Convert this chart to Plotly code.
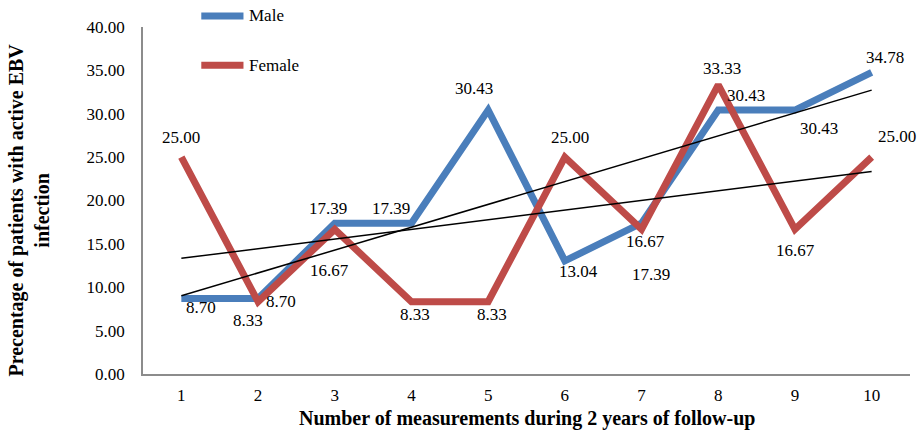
import numpy as np
import plotly.graph_objects as go

# Follow-up measurements (1..10) and share of patients with active EBV infection (%)
measurements = [1, 2, 3, 4, 5, 6, 7, 8, 9, 10]
male = [8.70, 8.70, 17.39, 17.39, 30.43, 13.04, 17.39, 30.43, 30.43, 34.78]
female = [25.00, 8.33, 16.67, 8.33, 8.33, 25.00, 16.67, 33.33, 16.67, 25.00]
y_ticks = [0, 5, 10, 15, 20, 25, 30, 35, 40]
series_names = ["Male", "Female"]

# Pixel offsets of each value label relative to its point
male_label_shift = [(20, -9), (23, -3), (-7, 15), (-20, 15), (-14, 22), (14, -11), (9, -51), (28, 15), (24, -18), (13, 15)]
female_label_shift = [(0, 20), (-10, -19), (-5, -41), (4, -13), (4, -13), (5, 20), (4, -12), (4, 16), (1, -21), (25, 21)]

BLUE = "#4A7EBB"
RED = "#BE4B48"
FONT = "'Liberation Serif', 'Times New Roman', Times, serif"

fig = go.Figure()
for name, series, color in ((series_names[0], male, BLUE), (series_names[1], female, RED)):
    fig.add_trace(go.Scatter(x=measurements, y=series, mode="lines", name=name,
                             line=dict(color=color, width=7), showlegend=False))

# Linear trend lines for both series
xs = np.array(measurements, dtype=float)
for series in (male, female):
    slope, intercept = np.polyfit(xs, np.array(series), 1)
    fig.add_trace(go.Scatter(x=xs, y=slope * xs + intercept, mode="lines",
                             line=dict(color="black", width=1.5), showlegend=False,
                             hoverinfo="skip"))

# Value labels
for series, shifts in ((male, male_label_shift), (female, female_label_shift)):
    for x, v, (dx, dy) in zip(measurements, series, shifts):
        fig.add_annotation(x=x, y=v, text=f"{v:.2f}", showarrow=False,
                           xshift=dx, yshift=dy, font=dict(family=FONT, size=17, color="black"))

# Legend: long line swatches with the series name to their right
for (name, color), ypos in zip(((series_names[0], BLUE), (series_names[1], RED)), (1.032, 0.890)):
    fig.add_shape(type="line", xref="paper", yref="paper", x0=0.076, x1=0.131, y0=ypos, y1=ypos,
                  line=dict(color=color, width=7))
    fig.add_annotation(xref="paper", yref="paper", x=0.1355, y=ypos, text=name, showarrow=False,
                       xanchor="left", yanchor="middle", font=dict(family=FONT, size=17, color="black"))

# Axis titles
fig.add_annotation(xref="paper", yref="paper", x=0.5, y=-0.127,
                   text="<b>Number of measurements during 2 years of follow-up</b>",
                   showarrow=False, font=dict(family=FONT, size=20, color="black"),
                   xanchor="center", yanchor="middle")
fig.add_annotation(xref="paper", yref="paper", x=-0.149, y=0.473,
                   text="<b>Precentage of patients with active EBV<br>infection</b>",
                   showarrow=False, textangle=-90, font=dict(family=FONT, size=20, color="black"),
                   xanchor="center", yanchor="middle")

fig.update_layout(
    width=919, height=430,
    margin=dict(l=143, r=9, t=27, b=56, autoexpand=False),
    paper_bgcolor="white", plot_bgcolor="white",
    font=dict(family=FONT, size=17, color="black"),
    showlegend=False,
    xaxis=dict(range=[0.5, 10.5], tickmode="array", tickvals=measurements,
               ticktext=[str(m) for m in measurements],
               showgrid=False, zeroline=False, showline=True, linecolor="#8C8C8C", linewidth=1.5,
               ticks="", ticklabelstandoff=5, fixedrange=True),
    yaxis=dict(range=[0, 40], tickmode="array", tickvals=y_ticks,
               ticktext=[f"{t:.2f}" for t in y_ticks],
               showgrid=False, zeroline=False, showline=True, linecolor="#8C8C8C", linewidth=1.5,
               ticks="", ticklabelstandoff=13, fixedrange=True),
)

fig.write_html("out.html")
